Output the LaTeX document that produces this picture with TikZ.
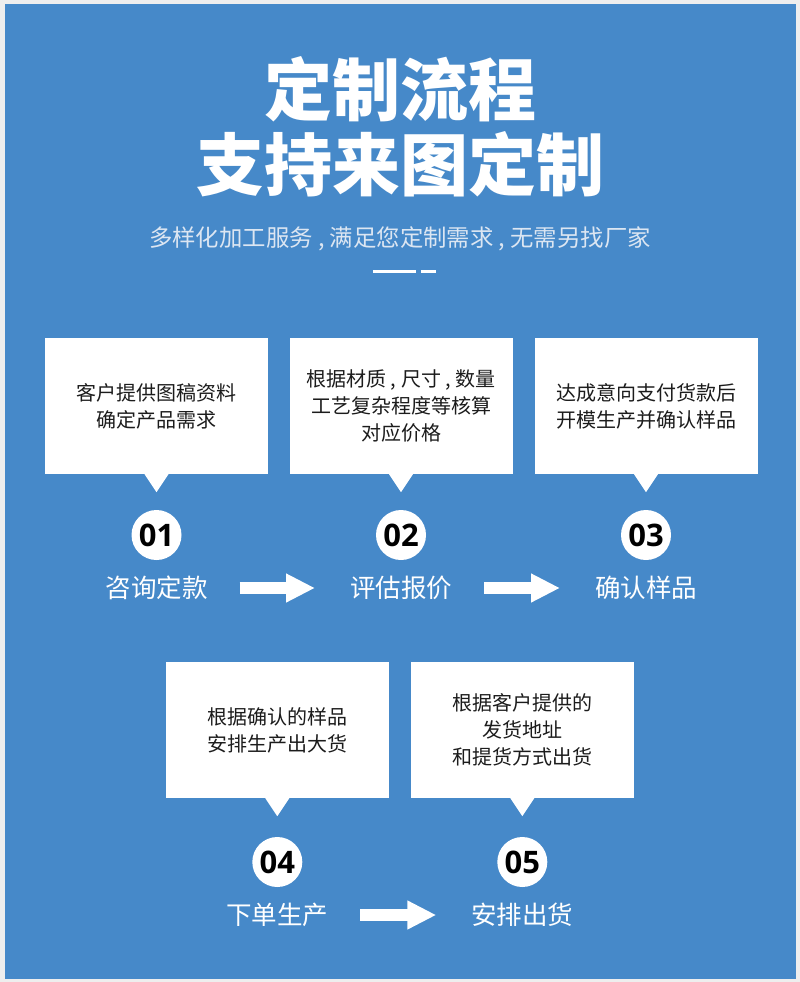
\documentclass[tikz,border=0pt]{standalone}
\usepackage{fontspec}
\setmainfont{Noto Sans CJK SC}
\newfontfamily\numfont{Open Sans}
\usetikzlibrary{arrows.meta}
\definecolor{bgblue}{HTML}{4689C9}
\definecolor{edgegray}{HTML}{EEEEEE}
\definecolor{boxtext}{HTML}{1C1C1C}
\definecolor{subtext}{HTML}{DCE6F2}

\begin{document}
\begin{tikzpicture}[x=1pt,y=-1pt,
    infobox/.style={fill=white,minimum width=223pt,minimum height=136pt,inner sep=0pt,
      align=center,text=boxtext,font=\fontsize{20}{27}\selectfont},
    numdot/.style={circle,fill=white,minimum size=50pt,inner sep=0pt,text=black,
      font=\numfont\bfseries\fontsize{31}{31}\selectfont},
    steplabel/.style={text=white,font=\fontsize{25.5}{26}\selectfont},
    flowarrow/.style={white,line width=12pt,-{Triangle[length=29pt,width=27pt]},
      shorten <=83pt,shorten >=86pt}]
      \fill[edgegray] (0,0) rectangle (800,982);
      \fill[bgblue] (5,4) rectangle (796,979);

      \node[text=white,font=\bfseries\fontsize{68}{68}\selectfont] (title1) at (400,89) {定制流程};
      \node[text=white,font=\bfseries\fontsize{68}{68}\selectfont] (title2) at (400,164) {支持来图定制};
      \node[text=subtext,font=\fontsize{23.4}{23.4}\selectfont] (subtitle) at (400,239)
        {多样化加工服务 , 满足您定制需求 , 无需另找厂家};
      \draw[white,line width=3pt] (373,271) -- (416,271) (421,271) -- (436,271);

      \node[infobox] (box1) at (156.5,406) {客户提供图稿资料\\确定产品需求};
      \node[infobox] (box2) at (401,406) {根据材质 , 尺寸 , 数量\\工艺复杂程度等核算\\对应价格};
      \node[infobox] (box3) at (646,406) {达成意向支付货款后\\开模生产并确认样品};
      \node[infobox] (box4) at (277.3,730) {根据确认的样品\\安排生产出大货};
      \node[infobox] (box5) at (522.3,730) {根据客户提供的\\发货地址\\和提货方式出货};
      \foreach \b in {box1,box2,box3,box4,box5}
        \fill[white] ([xshift=-12pt]\b.south) -- ([xshift=12pt]\b.south) -- ([yshift=-18pt]\b.south) -- cycle;

      \node[numdot] (num1) at (156.5,535) {01};
      \node[numdot] (num2) at (401,535) {02};
      \node[numdot] (num3) at (646,535) {03};
      \node[numdot] (num4) at (277.3,862) {04};
      \node[numdot] (num5) at (522.3,862) {05};

      \node[steplabel] (step1) at (156.5,588) {咨询定款};
      \node[steplabel] (step2) at (401,588) {评估报价};
      \node[steplabel] (step3) at (646,588) {确认样品};
      \node[steplabel] (step4) at (277.3,915) {下单生产};
      \node[steplabel] (step5) at (522.3,915) {安排出货};

      \draw[flowarrow] (step1.center) -- (step2.center);
      \draw[flowarrow] (step2.center) -- (step3.center);
      \draw[flowarrow] (step4.center) -- (step5.center);
\end{tikzpicture}
\end{document}
